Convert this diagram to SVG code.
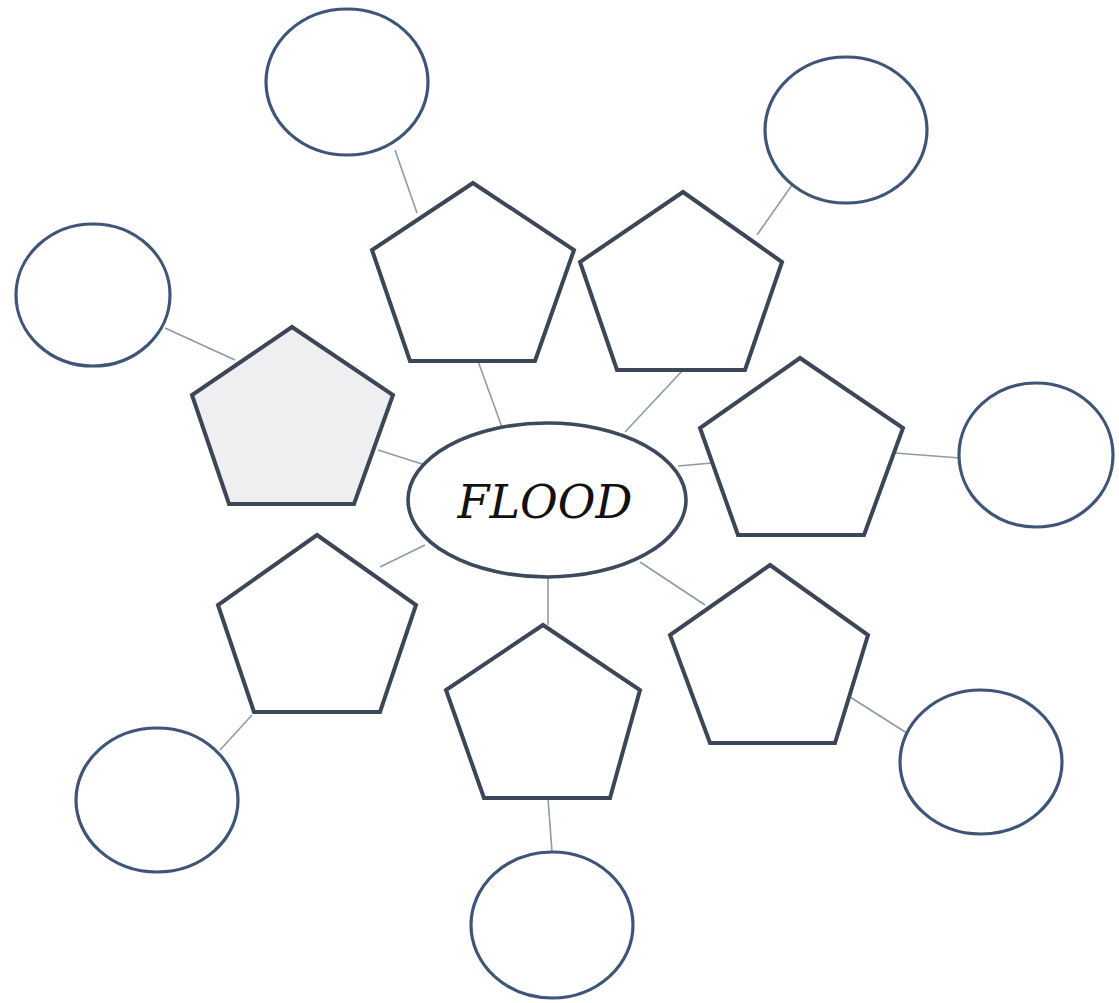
<svg xmlns="http://www.w3.org/2000/svg" width="1119" height="1003" viewBox="0 0 1119 1003">
<style>
.pent{fill:#ffffff;stroke:#3d4656;stroke-width:4;stroke-linejoin:miter}
.gray{fill:#efeff1}
.oval{fill:#ffffff;stroke:#3f5578;stroke-width:3.2}
.core{stroke:#3d4a5e;stroke-width:3.6}
.conn{stroke:#8c9bac;stroke-width:1.6;fill:none}
.lbl{font-family:"DejaVu Serif","Liberation Serif",serif;font-style:italic;font-size:46px;fill:#111}
</style>
<rect width="1119" height="1003" fill="#ffffff"/>
<g id="connectors">
<line class="conn" x1="395" y1="150" x2="417" y2="213"/>
<line class="conn" x1="478" y1="361" x2="503" y2="430"/>
<line class="conn" x1="683" y1="370" x2="625" y2="432"/>
<line class="conn" x1="792" y1="185" x2="757" y2="235"/>
<line class="conn" x1="165" y1="328" x2="235" y2="360"/>
<line class="conn" x1="378" y1="450" x2="422" y2="464"/>
<line class="conn" x1="678" y1="466" x2="712" y2="463"/>
<line class="conn" x1="895" y1="453" x2="960" y2="458"/>
<line class="conn" x1="380" y1="567" x2="425" y2="545"/>
<line class="conn" x1="252" y1="715" x2="220" y2="750"/>
<line class="conn" x1="548" y1="577" x2="548" y2="625"/>
<line class="conn" x1="548" y1="798" x2="552" y2="852"/>
<line class="conn" x1="640" y1="562" x2="705" y2="605"/>
<line class="conn" x1="850" y1="697" x2="910" y2="735"/>
</g>
<g id="center"><ellipse class="oval core" cx="547" cy="500" rx="139" ry="77"/><text class="lbl" x="545" y="518" text-anchor="middle">FLOOD</text></g>
<g id="pent-top-left"><polygon class="pent" points="473,183 574,250 535,361 410,361 372,250"/></g>
<g id="pent-top-right"><polygon class="pent" points="683,192 782,262 745,370 617,370 580,262"/></g>
<g id="pent-left"><polygon class="pent gray" points="292,327 393,395 354,504 229,504 192,395"/></g>
<g id="pent-right"><polygon class="pent" points="800,358 903,428 864,535 738,535 700,428"/></g>
<g id="pent-bottom-left"><polygon class="pent" points="317,535 416,605 380,712 254,712 218,605"/></g>
<g id="pent-bottom"><polygon class="pent" points="543,625 640,690 610,798 484,798 446,690"/></g>
<g id="pent-bottom-right"><polygon class="pent" points="770,565 868,635 835,743 710,743 670,635"/></g>
<g id="oval-top-left"><ellipse class="oval" cx="347" cy="82" rx="81" ry="73"/></g>
<g id="oval-top-right"><ellipse class="oval" cx="846" cy="130" rx="81" ry="73"/></g>
<g id="oval-left"><ellipse class="oval" cx="93" cy="295" rx="77" ry="71"/></g>
<g id="oval-right"><ellipse class="oval" cx="1036" cy="455" rx="77" ry="72"/></g>
<g id="oval-bottom-left"><ellipse class="oval" cx="157" cy="800" rx="81" ry="72"/></g>
<g id="oval-bottom"><ellipse class="oval" cx="552" cy="925" rx="81" ry="73"/></g>
<g id="oval-bottom-right"><ellipse class="oval" cx="981" cy="762" rx="81" ry="72"/></g>
</svg>
